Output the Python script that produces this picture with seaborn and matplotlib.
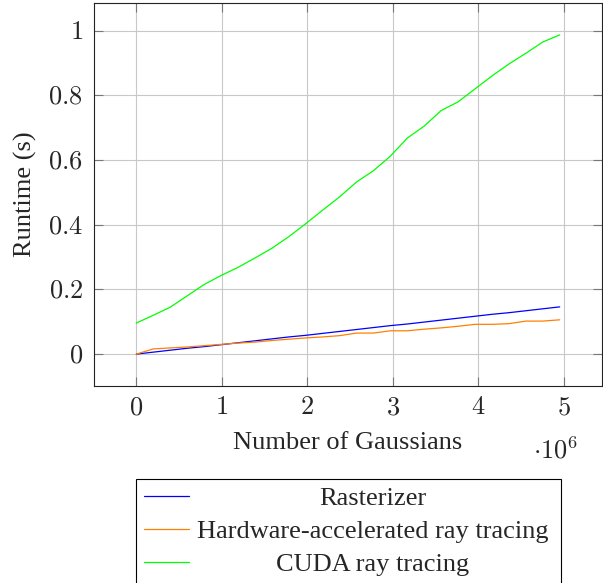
import matplotlib
matplotlib.use("Agg")
import matplotlib.pyplot as plt
from matplotlib.offsetbox import VPacker, DrawingArea
from matplotlib.ticker import FuncFormatter, MultipleLocator
import pandas as pd
import seaborn as sns

# number of gaussians (in millions)
n_gaussians = [0.0, 0.198, 0.396, 0.594, 0.792, 0.99, 1.188, 1.386, 1.584,
               1.782, 1.98, 2.178, 2.376, 2.574, 2.772, 2.97, 3.168, 3.366,
               3.564, 3.762, 3.96, 4.158, 4.356, 4.554, 4.752, 4.95]

rasterizer = [0.0, 0.006, 0.012, 0.018, 0.023, 0.029, 0.035, 0.041, 0.047,
              0.053, 0.058, 0.064, 0.070, 0.076, 0.082, 0.088, 0.093, 0.099,
              0.105, 0.111, 0.117, 0.123, 0.128, 0.134, 0.140, 0.146]

hw_raytracing = [0.0, 0.016, 0.019, 0.022, 0.026, 0.030, 0.034, 0.037, 0.042,
                 0.046, 0.050, 0.053, 0.057, 0.065, 0.065, 0.072, 0.072, 0.077,
                 0.081, 0.086, 0.092, 0.092, 0.094, 0.102, 0.102, 0.106]

cuda_raytracing = [0.096, 0.120, 0.145, 0.180, 0.215, 0.243, 0.268, 0.297,
                   0.327, 0.363, 0.403, 0.445, 0.486, 0.532, 0.567, 0.612,
                   0.668, 0.705, 0.753, 0.780, 0.820, 0.860, 0.897, 0.930,
                   0.965, 0.987]

series_names = ["Rasterizer", "Hardware-accelerated ray tracing", "CUDA ray tracing"]
series_colors = ["#0000ff", "#ff8000", "#00ff00"]

df = pd.concat([
    pd.DataFrame({"n": n_gaussians, "runtime": vals, "method": name})
    for name, vals in zip(series_names, [rasterizer, hw_raytracing, cuda_raytracing])
])

sns.set_theme(style="whitegrid")
plt.rcParams["font.family"] = ["Liberation Serif", "DejaVu Serif"]
plt.rcParams["mathtext.fontset"] = "cm"
FS = 19

fig = plt.figure(figsize=(6.03, 5.83), dpi=100)
ax = fig.add_axes([0.1559, 0.3379, 0.8425, 0.657])

sns.lineplot(data=df, x="n", y="runtime", hue="method", palette=series_colors,
             hue_order=series_names, errorbar=None, linewidth=0.9, ax=ax)

ax.set_xlim(-0.495, 5.445)
ax.set_ylim(-0.0987, 1.0857)
ax.xaxis.set_major_locator(MultipleLocator(1))
ax.yaxis.set_major_locator(MultipleLocator(0.2))
ax.xaxis.set_major_formatter(FuncFormatter(lambda v, p: f"${v:g}$"))
ax.yaxis.set_major_formatter(FuncFormatter(lambda v, p: f"${round(v, 1):g}$"))

ax.set_facecolor("white")
ax.grid(True, color="#c8c8c8", linewidth=0.8)
for s in ax.spines.values():
    s.set_visible(True)
    s.set_color("#222222")
    s.set_linewidth(0.8)
ax.tick_params(direction="in", length=6.5, width=0.8, color="#777777",
               top=True, right=True, bottom=True, left=True, labelsize=FS)
ax.tick_params(axis="x", pad=8)
ax.tick_params(axis="y", pad=8)

ax.set_xlabel("Number of Gaussians", fontsize=FS, labelpad=9.5)
ax.set_ylabel("Runtime (s)", fontsize=FS, labelpad=8)
ax.text(0.864, -0.188, r"$\cdot 10^6$", transform=ax.transAxes, fontsize=FS,
        ha="left", va="baseline")

handles, labels = ax.get_legend_handles_labels()
leg = ax.legend(handles, labels, loc="upper center", bbox_to_anchor=(0.578, 0.1785),
                bbox_transform=fig.transFigure, fontsize=FS, frameon=True,
                fancybox=False, edgecolor="black", framealpha=1,
                handlelength=1.74, handletextpad=0.11, borderpad=0.3,
                labelspacing=0.36, borderaxespad=0)
leg.get_frame().set_linewidth(0.8)
for line in leg.get_lines():
    line.set_linewidth(0.9)

# center the labels in their column, like pgfplots does
col = leg._legend_handle_box.get_children()[0]
for item in col.get_children():
    txt = item.get_children()[1]
    box = VPacker(children=[txt, DrawingArea(260, 0)], align="center", pad=0, sep=0)
    box.set_figure(fig)
    item._children[1] = box

fig.savefig("out.png", dpi=100)
